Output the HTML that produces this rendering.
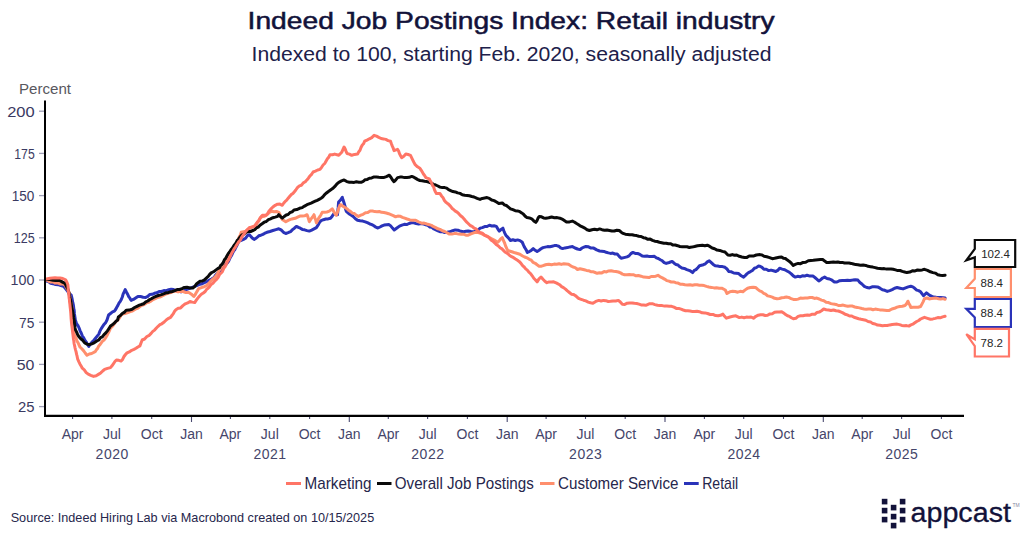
<!DOCTYPE html>
<html><head><meta charset="utf-8">
<style>
html,body{margin:0;padding:0;background:#fff;width:1024px;height:536px;overflow:hidden}
svg{display:block}
text{font-family:"Liberation Sans",sans-serif}
.t{font-weight:normal;font-size:23.4px;fill:#12123a;stroke:#12123a;stroke-width:0.5px}
.st{font-size:20px;fill:#20204a}
.yl{font-size:14.5px;fill:#3a3a62}
.xl{font-size:14px;fill:#45456a}
.yr{font-size:14px;fill:#45456a;letter-spacing:0.5px}
.lg{font-size:15.9px;fill:#26264c}
.src{font-size:13px;fill:#26264c}
.pc{font-size:15.4px;fill:#58585e}
.vl{font-size:11.5px;fill:#262626}
.logo{font-size:26.8px;fill:#12123a;stroke:#12123a;stroke-width:0.3px}
</style></head>
<body>
<svg width="1024" height="536" viewBox="0 0 1024 536">
<text x="247.6" y="29" class="t" textLength="527" lengthAdjust="spacingAndGlyphs">Indeed Job Postings Index: Retail industry</text>
<text x="251.5" y="61" class="st" textLength="520" lengthAdjust="spacingAndGlyphs">Indexed to 100, starting Feb. 2020, seasonally adjusted</text>
<text x="19" y="94.1" class="pc" textLength="52" lengthAdjust="spacingAndGlyphs">Percent</text>
<line x1="39" y1="111.2" x2="45" y2="111.2" stroke="#a0a0b8" stroke-width="1.3"/>
<text x="7.2" y="116.5" class="yl" textLength="27.5" lengthAdjust="spacingAndGlyphs">200</text>
<line x1="39" y1="153.4" x2="45" y2="153.4" stroke="#a0a0b8" stroke-width="1.3"/>
<text x="14.3" y="158.7" class="yl" textLength="20.4" lengthAdjust="spacingAndGlyphs">175</text>
<line x1="39" y1="195.6" x2="45" y2="195.6" stroke="#a0a0b8" stroke-width="1.3"/>
<text x="11.8" y="200.9" class="yl" textLength="22.6" lengthAdjust="spacingAndGlyphs">150</text>
<line x1="39" y1="237.8" x2="45" y2="237.8" stroke="#a0a0b8" stroke-width="1.3"/>
<text x="13.7" y="243.1" class="yl" textLength="21.0" lengthAdjust="spacingAndGlyphs">125</text>
<line x1="39" y1="280.0" x2="45" y2="280.0" stroke="#a0a0b8" stroke-width="1.3"/>
<text x="10.6" y="285.3" class="yl" textLength="23.8" lengthAdjust="spacingAndGlyphs">100</text>
<line x1="39" y1="322.2" x2="45" y2="322.2" stroke="#a0a0b8" stroke-width="1.3"/>
<text x="19.1" y="327.5" class="yl" textLength="15.3" lengthAdjust="spacingAndGlyphs">75</text>
<line x1="39" y1="364.4" x2="45" y2="364.4" stroke="#a0a0b8" stroke-width="1.3"/>
<text x="16.7" y="369.7" class="yl" textLength="17.7" lengthAdjust="spacingAndGlyphs">50</text>
<line x1="39" y1="406.6" x2="45" y2="406.6" stroke="#a0a0b8" stroke-width="1.3"/>
<text x="18.1" y="411.9" class="yl" textLength="16.5" lengthAdjust="spacingAndGlyphs">25</text>
<line x1="72.6" y1="416" x2="72.6" y2="419" stroke="#4a4a70" stroke-width="1.1"/>
<text x="72.6" y="438.7" text-anchor="middle" class="xl">Apr</text>
<line x1="111.9" y1="416" x2="111.9" y2="419" stroke="#4a4a70" stroke-width="1.1"/>
<text x="111.9" y="438.7" text-anchor="middle" class="xl">Jul</text>
<line x1="151.7" y1="416" x2="151.7" y2="419" stroke="#4a4a70" stroke-width="1.1"/>
<text x="151.7" y="438.7" text-anchor="middle" class="xl">Oct</text>
<text x="112.2" y="459" text-anchor="middle" class="yr">2020</text>
<line x1="191.5" y1="416" x2="191.5" y2="422" stroke="#4a4a70" stroke-width="1.1"/>
<text x="191.5" y="438.7" text-anchor="middle" class="xl">Jan</text>
<line x1="230.4" y1="416" x2="230.4" y2="419" stroke="#4a4a70" stroke-width="1.1"/>
<text x="230.4" y="438.7" text-anchor="middle" class="xl">Apr</text>
<line x1="269.8" y1="416" x2="269.8" y2="419" stroke="#4a4a70" stroke-width="1.1"/>
<text x="269.8" y="438.7" text-anchor="middle" class="xl">Jul</text>
<line x1="309.6" y1="416" x2="309.6" y2="419" stroke="#4a4a70" stroke-width="1.1"/>
<text x="309.6" y="438.7" text-anchor="middle" class="xl">Oct</text>
<text x="270.0" y="459" text-anchor="middle" class="yr">2021</text>
<line x1="349.3" y1="416" x2="349.3" y2="422" stroke="#4a4a70" stroke-width="1.1"/>
<text x="349.3" y="438.7" text-anchor="middle" class="xl">Jan</text>
<line x1="388.3" y1="416" x2="388.3" y2="419" stroke="#4a4a70" stroke-width="1.1"/>
<text x="388.3" y="438.7" text-anchor="middle" class="xl">Apr</text>
<line x1="427.6" y1="416" x2="427.6" y2="419" stroke="#4a4a70" stroke-width="1.1"/>
<text x="427.6" y="438.7" text-anchor="middle" class="xl">Jul</text>
<line x1="467.4" y1="416" x2="467.4" y2="419" stroke="#4a4a70" stroke-width="1.1"/>
<text x="467.4" y="438.7" text-anchor="middle" class="xl">Oct</text>
<text x="427.9" y="459" text-anchor="middle" class="yr">2022</text>
<line x1="507.2" y1="416" x2="507.2" y2="422" stroke="#4a4a70" stroke-width="1.1"/>
<text x="507.2" y="438.7" text-anchor="middle" class="xl">Jan</text>
<line x1="546.1" y1="416" x2="546.1" y2="419" stroke="#4a4a70" stroke-width="1.1"/>
<text x="546.1" y="438.7" text-anchor="middle" class="xl">Apr</text>
<line x1="585.5" y1="416" x2="585.5" y2="419" stroke="#4a4a70" stroke-width="1.1"/>
<text x="585.5" y="438.7" text-anchor="middle" class="xl">Jul</text>
<line x1="625.2" y1="416" x2="625.2" y2="419" stroke="#4a4a70" stroke-width="1.1"/>
<text x="625.2" y="438.7" text-anchor="middle" class="xl">Oct</text>
<text x="585.7" y="459" text-anchor="middle" class="yr">2023</text>
<line x1="665.0" y1="416" x2="665.0" y2="422" stroke="#4a4a70" stroke-width="1.1"/>
<text x="665.0" y="438.7" text-anchor="middle" class="xl">Jan</text>
<line x1="704.4" y1="416" x2="704.4" y2="419" stroke="#4a4a70" stroke-width="1.1"/>
<text x="704.4" y="438.7" text-anchor="middle" class="xl">Apr</text>
<line x1="743.7" y1="416" x2="743.7" y2="419" stroke="#4a4a70" stroke-width="1.1"/>
<text x="743.7" y="438.7" text-anchor="middle" class="xl">Jul</text>
<line x1="783.5" y1="416" x2="783.5" y2="419" stroke="#4a4a70" stroke-width="1.1"/>
<text x="783.5" y="438.7" text-anchor="middle" class="xl">Oct</text>
<text x="744.0" y="459" text-anchor="middle" class="yr">2024</text>
<line x1="823.3" y1="416" x2="823.3" y2="422" stroke="#4a4a70" stroke-width="1.1"/>
<text x="823.3" y="438.7" text-anchor="middle" class="xl">Jan</text>
<line x1="862.2" y1="416" x2="862.2" y2="419" stroke="#4a4a70" stroke-width="1.1"/>
<text x="862.2" y="438.7" text-anchor="middle" class="xl">Apr</text>
<line x1="901.6" y1="416" x2="901.6" y2="419" stroke="#4a4a70" stroke-width="1.1"/>
<text x="901.6" y="438.7" text-anchor="middle" class="xl">Jul</text>
<line x1="941.4" y1="416" x2="941.4" y2="419" stroke="#4a4a70" stroke-width="1.1"/>
<text x="941.4" y="438.7" text-anchor="middle" class="xl">Oct</text>
<text x="901.8" y="459" text-anchor="middle" class="yr">2025</text>

<path d="M46.2,281.0 L48.5,281.5 L50.7,283.2 L53.0,283.7 L55.6,284.6 L58.2,284.7 L60.9,285.6 L63.5,286.3 L65.1,288.1 L66.7,290.1 L68.2,292.0 L69.7,293.8 L71.2,295.2 L71.7,297.1 L72.2,299.4 L72.8,302.7 L73.3,304.7 L73.6,306.8 L73.9,309.4 L74.2,310.7 L74.4,313.4 L74.7,315.9 L75.0,317.5 L75.3,320.0 L76.2,322.6 L77.2,324.7 L78.1,325.8 L79.1,328.0 L80.0,330.6 L81.2,333.0 L82.3,335.8 L83.5,337.5 L84.7,340.0 L86.1,341.8 L87.4,344.2 L88.8,346.4 L90.6,343.7 L92.3,341.8 L94.1,340.0 L95.7,338.0 L97.2,336.1 L98.8,334.1 L99.9,331.2 L101.1,328.8 L102.7,326.4 L104.2,324.2 L105.8,322.4 L107.0,320.0 L107.8,317.5 L108.6,315.0 L110.5,313.5 L112.5,311.9 L114.4,311.1 L115.6,309.5 L116.8,307.2 L117.9,305.4 L119.1,302.9 L120.3,301.3 L121.3,299.5 L122.3,297.0 L123.2,293.9 L124.2,291.8 L125.2,289.6 L126.4,292.0 L127.6,294.2 L128.7,296.6 L129.9,298.2 L131.1,300.4 L133.4,299.4 L135.6,297.9 L137.9,296.4 L140.5,296.5 L143.2,297.2 L145.8,297.4 L147.8,296.4 L149.7,294.5 L152.1,294.3 L154.4,293.3 L156.8,292.8 L159.1,291.6 L161.5,291.5 L163.9,290.6 L166.3,290.7 L168.8,289.7 L171.2,289.2 L173.6,289.5 L176.1,290.6 L178.6,291.4 L181.0,291.9 L183.6,291.0 L186.3,289.6 L188.9,288.6 L191.5,287.6 L194.1,286.7 L196.7,285.7 L200.0,284.2 L202.2,283.7 L204.3,282.6 L206.5,281.8 L209.0,280.3 L211.5,279.0 L214.0,277.6 L215.5,275.4 L217.0,273.8 L218.5,272.9 L220.0,271.5 L221.4,269.4 L222.9,267.5 L224.4,265.6 L225.9,264.4 L227.4,262.7 L228.5,261.3 L229.5,259.1 L230.6,256.9 L231.7,255.2 L232.8,252.6 L233.8,250.9 L234.9,249.5 L236.0,247.1 L237.1,245.0 L238.1,242.8 L239.2,241.1 L241.3,240.3 L243.5,239.4 L245.5,238.3 L247.4,235.7 L249.4,234.7 L251.0,236.6 L252.5,238.2 L254.1,239.4 L256.4,238.0 L258.8,235.8 L260.9,235.2 L262.9,234.4 L264.9,233.2 L267.0,232.3 L269.9,231.5 L272.9,230.5 L275.9,229.6 L278.8,228.8 L281.1,229.9 L283.5,232.3 L285.8,233.5 L288.1,232.7 L290.5,231.7 L292.5,229.6 L294.4,228.2 L296.4,226.4 L298.4,227.4 L300.3,228.2 L302.3,229.4 L304.6,229.8 L307.0,230.6 L309.3,231.1 L311.7,230.1 L314.0,228.9 L316.4,227.6 L318.0,225.2 L319.5,222.4 L321.1,220.6 L323.5,219.7 L325.8,219.0 L328.1,218.9 L330.5,218.2 L332.2,216.2 L334.0,213.5 L337.5,214.7 L337.7,212.5 L337.9,209.9 L338.2,207.4 L338.4,204.3 L338.6,202.0 L340.5,200.0 L342.3,197.3 L343.0,199.8 L343.6,201.5 L344.3,203.8 L345.0,206.1 L345.6,209.2 L346.3,211.3 L348.9,213.7 L351.0,215.0 L353.2,216.5 L355.4,218.7 L357.5,220.2 L360.1,220.7 L362.7,221.1 L365.3,221.9 L367.9,222.9 L369.9,224.0 L371.9,224.6 L373.9,225.7 L375.9,227.2 L377.9,228.0 L380.0,227.0 L382.0,225.9 L384.1,225.1 L386.6,224.8 L389.0,224.6 L390.7,225.9 L392.5,228.1 L394.2,230.0 L396.9,228.0 L399.5,226.1 L401.9,225.1 L404.3,224.3 L406.6,224.6 L409.0,223.5 L411.4,222.8 L413.8,222.8 L416.2,223.6 L418.6,224.1 L421.0,223.6 L423.4,223.9 L425.8,224.8 L427.8,225.4 L429.9,227.0 L431.9,227.4 L433.9,229.0 L435.9,229.9 L438.0,230.8 L440.0,231.7 L442.4,231.6 L444.7,232.6 L447.1,232.3 L449.8,231.8 L452.6,230.7 L455.3,229.9 L458.0,230.2 L460.8,231.3 L463.5,231.7 L465.9,231.3 L468.2,231.1 L471.1,231.5 L474.1,231.7 L476.2,230.5 L478.2,229.8 L480.2,228.1 L482.3,227.6 L484.7,226.6 L487.0,226.5 L489.4,225.2 L491.7,226.0 L494.1,225.8 L496.4,226.4 L497.9,229.1 L499.3,231.1 L501.1,229.4 L502.9,228.2 L503.9,231.0 L504.8,233.1 L505.8,235.2 L507.4,236.9 L508.9,238.5 L510.5,240.5 L512.9,239.8 L515.2,240.5 L517.6,239.9 L520.0,240.6 L522.3,242.3 L523.3,244.7 L524.3,246.9 L525.3,248.5 L526.3,250.1 L527.3,252.5 L529.3,251.6 L531.2,250.4 L533.2,248.6 L535.2,250.3 L537.1,251.5 L539.1,250.2 L541.0,248.8 L543.0,247.6 L545.3,247.1 L547.6,246.6 L549.9,246.8 L552.1,246.2 L554.4,245.6 L556.7,245.6 L558.7,246.2 L560.6,247.8 L562.6,248.6 L565.0,247.9 L567.5,247.6 L570.0,246.9 L572.4,246.6 L575.0,248.0 L577.5,249.0 L580.1,249.6 L582.0,248.0 L584.0,247.1 L585.9,246.4 L588.5,246.8 L591.1,248.1 L593.7,248.1 L596.7,249.9 L599.6,251.0 L601.8,251.2 L604.0,251.4 L606.2,252.3 L608.4,252.9 L610.6,253.4 L612.8,253.1 L615.0,254.0 L617.2,254.0 L619.2,256.4 L621.1,258.3 L624.0,257.6 L627.0,256.9 L629.0,255.9 L630.9,253.6 L632.9,252.4 L635.2,253.4 L637.6,253.5 L639.9,254.4 L642.3,256.0 L644.6,256.3 L647.0,256.0 L649.5,256.6 L652.0,256.4 L654.4,256.3 L656.4,257.9 L658.3,258.5 L660.3,259.7 L662.3,260.8 L664.2,262.6 L666.2,263.4 L669.2,262.5 L672.1,261.4 L674.1,263.2 L676.0,264.5 L678.0,265.0 L679.9,266.8 L681.9,268.1 L684.3,268.4 L686.8,269.6 L689.7,270.6 L692.6,272.6 L694.3,270.4 L696.0,269.6 L697.8,267.7 L699.5,265.7 L703.4,264.7 L705.4,263.8 L707.3,261.9 L709.3,260.8 L711.3,262.6 L713.2,264.4 L715.2,265.7 L717.7,266.0 L720.1,266.6 L722.5,266.6 L725.0,267.3 L727.0,269.0 L728.9,271.6 L731.4,271.8 L733.8,273.0 L736.2,273.2 L738.7,273.6 L741.2,275.8 L743.6,277.1 L745.2,275.6 L746.9,273.9 L748.5,272.6 L750.5,271.6 L752.4,270.4 L754.4,268.2 L756.3,267.6 L758.3,266.1 L760.0,266.3 L762.0,267.4 L763.9,269.3 L766.3,269.3 L768.7,270.6 L771.0,270.1 L773.4,270.8 L775.8,271.5 L777.7,270.4 L779.6,268.2 L782.2,269.1 L784.8,269.8 L787.4,271.2 L789.4,272.3 L791.3,273.9 L793.3,275.9 L795.3,277.1 L797.6,276.3 L800.0,276.8 L802.3,275.8 L804.7,276.1 L807.0,275.2 L810.0,276.1 L812.9,276.1 L814.9,277.5 L816.8,279.1 L818.8,281.0 L820.7,279.7 L822.7,278.0 L824.6,277.1 L827.0,278.5 L829.5,279.0 L832.0,280.2 L834.4,282.0 L837.0,282.0 L839.7,280.7 L842.3,280.4 L844.9,280.5 L847.5,280.3 L850.1,280.4 L852.7,280.1 L855.3,279.7 L857.9,280.1 L859.9,282.5 L861.9,284.0 L864.3,286.3 L866.8,287.5 L869.5,287.9 L872.1,286.8 L874.8,286.7 L877.5,286.9 L880.0,288.2 L882.4,289.7 L884.8,290.3 L887.3,291.4 L889.8,290.6 L892.2,289.6 L894.6,288.2 L897.1,287.5 L900.0,288.2 L903.0,288.9 L905.6,287.8 L908.2,286.9 L910.8,286.3 L912.8,286.9 L914.7,288.3 L916.7,290.1 L918.6,290.6 L920.6,291.8 L922.1,293.9 L923.6,295.7 L926.5,292.8 L928.5,294.4 L930.4,295.7 L933.3,297.0 L936.3,297.3 L938.5,297.4 L940.7,297.5 L942.9,297.7 L945.1,298.1" fill="none" stroke="#2a33b9" stroke-width="3.0" stroke-linejoin="round" stroke-linecap="round"/>
<path d="M46.5,280.0 L48.7,281.3 L50.9,282.0 L53.0,281.8 L55.2,283.1 L57.6,282.8 L60.1,283.9 L62.5,283.7 L65.3,285.3 L66.5,287.8 L67.8,290.0 L69.0,292.0 L69.5,294.2 L69.9,297.0 L70.4,299.5 L70.9,301.9 L71.4,303.9 L71.8,306.7 L72.3,309.2 L72.5,311.3 L72.6,314.0 L72.8,316.5 L73.0,318.7 L73.1,320.6 L73.3,322.7 L73.4,324.8 L73.6,326.8 L73.8,329.1 L73.9,331.8 L74.1,334.1 L75.1,336.1 L76.1,338.3 L77.0,341.0 L78.0,342.7 L79.0,344.9 L80.0,347.0 L81.8,348.8 L83.5,350.6 L85.2,353.0 L87.0,355.3 L89.3,354.0 L91.7,353.5 L95.2,351.7 L96.4,349.8 L97.6,348.4 L98.8,345.9 L100.5,344.0 L102.3,341.4 L104.0,340.1 L105.8,337.6 L107.0,335.6 L108.2,333.2 L109.3,331.0 L110.5,328.2 L112.0,326.7 L113.5,325.0 L114.9,322.8 L116.4,321.2 L117.9,320.0 L119.3,318.2 L120.8,315.5 L122.3,314.1 L124.8,313.6 L127.2,312.8 L129.7,311.8 L132.1,311.1 L134.1,310.0 L136.0,308.8 L138.0,308.1 L139.9,306.5 L141.9,305.3 L144.1,304.5 L146.4,302.9 L148.6,302.3 L150.8,301.2 L153.0,299.6 L155.3,298.6 L157.5,297.4 L159.7,297.0 L162.0,296.0 L164.2,294.9 L166.5,293.7 L168.7,293.0 L171.0,292.6 L173.2,291.5 L175.6,291.1 L178.1,291.9 L180.6,291.2 L183.0,291.5 L185.9,292.5 L188.9,292.5 L191.4,294.2 L193.8,296.4 L195.0,295.0 L196.2,292.7 L197.5,290.6 L198.7,288.6 L200.0,288.1 L202.2,287.3 L204.3,286.7 L206.5,285.7 L208.3,283.9 L210.2,281.8 L212.0,279.8 L213.9,278.3 L215.7,276.4 L216.8,274.9 L218.0,272.6 L219.1,270.1 L220.3,268.9 L221.4,266.9 L222.6,265.1 L223.7,262.4 L224.8,261.0 L226.0,258.3 L227.1,257.0 L228.3,254.6 L229.4,252.9 L230.8,250.8 L232.2,249.8 L233.7,247.2 L235.1,245.9 L236.5,244.1 L237.4,242.1 L238.4,239.1 L239.3,236.7 L240.3,235.1 L241.2,232.3 L243.6,231.6 L245.9,231.1 L248.2,229.6 L250.6,227.6 L252.9,226.5 L255.3,226.4 L256.5,224.4 L257.6,222.3 L258.8,221.0 L259.9,218.4 L261.1,217.0 L264.1,216.4 L267.0,214.7 L269.4,212.4 L271.7,211.2 L274.1,211.8 L276.4,211.4 L278.8,212.3 L280.0,214.4 L281.1,217.4 L282.3,219.4 L285.8,221.7 L288.2,220.4 L290.5,219.4 L292.9,218.8 L295.2,218.3 L297.6,217.2 L299.9,216.1 L302.3,215.9 L304.6,215.8 L307.0,214.7 L307.8,216.6 L308.5,218.9 L309.3,221.7 L310.9,219.2 L312.4,217.2 L314.0,214.7 L314.8,217.7 L315.6,219.7 L316.4,222.9 L317.6,220.6 L318.7,218.1 L319.9,216.5 L321.0,214.7 L322.2,212.3 L324.6,212.2 L326.9,212.0 L329.3,211.2 L332.2,208.8 L333.6,211.2 L334.9,213.5 L336.3,215.3 L337.2,213.0 L338.1,210.3 L339.0,207.5 L339.9,205.3 L340.8,204.6 L342.7,206.2 L344.6,207.2 L346.5,208.4 L348.4,210.2 L350.4,211.4 L352.4,213.1 L354.4,213.5 L356.4,215.3 L358.4,216.4 L360.8,215.2 L363.1,214.3 L365.5,212.8 L367.8,212.6 L370.2,211.0 L372.5,211.0 L374.8,211.6 L377.0,211.7 L379.3,211.5 L381.6,212.3 L383.9,212.5 L386.2,213.0 L388.6,213.7 L390.9,214.6 L393.3,215.6 L395.6,216.8 L397.8,216.1 L400.0,216.2 L402.4,217.3 L404.7,218.1 L407.1,219.0 L410.0,219.9 L412.8,220.3 L415.7,220.2 L418.9,222.0 L421.5,223.2 L424.1,223.1 L426.8,224.0 L429.4,224.7 L431.5,225.4 L433.6,226.7 L435.8,227.7 L437.9,228.8 L440.0,229.4 L442.4,230.8 L444.7,231.5 L447.0,232.8 L449.4,234.1 L451.8,234.1 L454.1,233.6 L456.4,233.6 L458.8,234.1 L461.1,234.3 L463.5,234.2 L465.9,235.2 L468.2,235.2 L470.9,233.9 L473.7,232.8 L476.4,232.3 L479.2,232.9 L481.9,233.9 L484.7,235.2 L487.0,236.1 L489.4,237.6 L491.7,238.8 L493.7,239.9 L495.6,240.9 L497.6,242.3 L499.2,240.9 L500.7,238.9 L502.3,237.6 L503.5,240.7 L504.6,243.0 L505.6,246.0 L506.7,248.3 L507.7,250.5 L510.1,251.2 L512.6,252.0 L515.0,252.8 L517.5,253.5 L519.9,254.2 L522.2,255.7 L524.6,257.0 L526.9,257.8 L529.3,259.3 L531.3,260.2 L533.2,262.4 L535.2,263.3 L537.1,264.8 L539.1,266.2 L541.5,266.2 L544.0,265.3 L546.5,264.5 L548.9,264.2 L551.5,264.7 L554.1,264.1 L556.7,264.2 L559.1,263.7 L561.4,264.4 L563.8,263.8 L566.1,264.0 L568.5,264.2 L570.8,265.9 L573.0,267.0 L575.2,267.6 L577.5,269.5 L580.0,268.7 L582.1,269.2 L584.3,269.8 L586.5,270.4 L588.6,270.7 L590.8,271.7 L592.9,271.7 L595.1,272.5 L597.2,273.3 L599.5,272.7 L601.8,272.9 L604.1,271.6 L606.4,271.9 L608.7,270.9 L611.0,270.8 L613.5,271.3 L615.9,271.5 L618.4,272.0 L620.5,272.9 L622.5,274.1 L624.6,274.7 L626.9,274.7 L629.2,274.6 L631.5,274.7 L633.8,274.8 L636.1,275.8 L638.4,275.5 L641.0,276.2 L643.7,277.1 L646.4,277.3 L649.0,277.6 L651.2,276.5 L653.5,276.6 L655.8,276.2 L658.0,275.3 L660.2,276.9 L662.4,277.9 L664.5,279.1 L666.7,280.6 L669.0,281.1 L671.2,282.0 L673.5,281.9 L675.7,282.7 L678.0,283.1 L680.2,284.2 L682.5,284.2 L685.0,284.7 L687.5,285.0 L690.0,284.7 L692.4,285.2 L694.7,284.7 L697.1,284.8 L699.4,285.2 L701.8,285.3 L704.1,285.6 L706.5,286.4 L708.8,287.0 L711.4,287.4 L714.0,287.9 L716.5,287.8 L719.1,288.3 L721.7,288.2 L725.3,290.0 L727.0,293.5 L730.0,291.7 L732.6,291.3 L735.2,291.5 L737.7,292.2 L740.3,291.3 L742.9,291.7 L745.2,289.9 L747.6,288.2 L750.3,287.5 L753.1,287.3 L755.8,287.6 L757.8,289.4 L759.7,290.9 L761.7,291.7 L763.7,293.3 L765.6,294.1 L767.6,295.9 L770.0,296.4 L772.3,297.1 L774.6,298.3 L777.0,298.8 L779.4,298.5 L781.7,297.8 L784.0,297.5 L786.4,297.0 L788.7,297.4 L791.1,298.6 L793.4,299.4 L795.8,299.6 L798.1,299.1 L800.4,298.1 L802.8,298.2 L805.2,298.0 L807.5,298.0 L809.9,297.6 L812.2,297.5 L814.5,298.4 L816.8,298.1 L819.2,299.0 L821.5,300.1 L823.9,300.7 L826.2,302.2 L828.6,302.6 L831.0,303.6 L833.5,304.1 L836.0,304.4 L838.4,305.5 L840.7,305.5 L843.1,305.1 L845.4,305.8 L847.8,306.2 L850.1,305.9 L852.5,306.1 L854.8,307.0 L857.2,307.4 L859.5,307.9 L861.9,308.5 L864.1,308.9 L866.4,309.2 L868.6,309.1 L870.8,309.0 L873.0,309.7 L875.3,309.1 L877.5,309.4 L879.9,309.9 L882.2,310.0 L884.6,310.3 L886.9,310.6 L889.3,310.4 L891.9,309.0 L894.5,308.3 L897.1,307.1 L899.7,306.5 L902.4,306.2 L905.0,305.5 L906.5,303.9 L907.9,301.2 L908.9,303.4 L909.8,304.9 L910.8,307.5 L913.2,307.2 L915.7,307.2 L918.1,307.2 L920.6,306.5 L921.9,304.1 L923.2,301.6 L924.5,298.7 L926.9,298.0 L929.2,298.9 L931.6,298.6 L933.9,298.3 L936.3,298.1 L938.5,298.8 L940.7,299.1 L942.9,298.6 L945.1,299.3" fill="none" stroke="#ff8f6d" stroke-width="3.0" stroke-linejoin="round" stroke-linecap="round"/>
<path d="M46.5,279.5 L49.8,279.6 L53.0,280.3 L55.3,280.4 L57.7,280.4 L60.0,280.6 L62.5,282.1 L65.0,283.4 L66.4,286.3 L67.8,289.0 L68.5,291.1 L69.1,293.7 L69.8,297.2 L70.4,299.4 L70.8,301.4 L71.2,303.6 L71.6,306.6 L72.1,308.3 L72.5,310.9 L72.9,312.7 L73.3,315.0 L73.7,317.7 L74.1,320.0 L74.4,322.0 L74.7,324.8 L75.0,327.5 L75.3,329.4 L76.5,331.8 L77.6,334.4 L78.8,336.5 L80.8,338.8 L82.7,340.3 L84.7,342.9 L87.1,344.1 L89.4,344.7 L91.8,343.9 L94.1,342.9 L96.4,341.2 L98.8,340.0 L100.5,337.7 L102.3,336.9 L104.0,334.6 L105.8,332.9 L107.4,330.8 L108.9,328.7 L110.5,325.9 L112.3,324.7 L114.0,323.4 L115.8,321.4 L117.6,320.0 L118.4,317.0 L120.4,315.6 L122.3,313.5 L124.2,312.4 L126.2,310.2 L129.2,310.1 L132.1,309.2 L134.6,307.5 L137.0,306.3 L139.4,305.2 L141.9,304.3 L143.8,303.7 L145.8,301.9 L147.8,301.0 L149.7,299.5 L151.7,298.6 L153.6,297.4 L156.0,296.4 L158.3,295.5 L160.7,294.9 L163.0,294.1 L165.4,293.1 L167.7,292.8 L170.1,291.9 L172.4,291.5 L174.8,290.7 L177.1,289.6 L179.6,289.5 L182.0,288.6 L184.4,287.4 L186.9,287.2 L189.9,288.0 L192.8,288.0 L194.8,286.4 L196.7,283.7 L200.0,281.3 L202.2,281.0 L204.5,279.8 L206.3,278.1 L208.2,276.4 L210.0,274.0 L211.8,272.5 L213.8,271.6 L215.7,270.1 L217.7,268.6 L219.6,267.6 L220.8,265.2 L222.1,264.2 L223.3,262.4 L224.5,259.5 L225.7,258.4 L226.9,256.0 L228.2,253.8 L229.4,252.3 L231.0,249.7 L232.5,247.9 L234.1,245.2 L235.6,243.6 L237.1,240.6 L238.5,239.2 L240.0,237.0 L242.0,234.9 L243.9,234.1 L245.9,232.3 L248.2,231.5 L250.6,231.5 L252.9,230.5 L254.7,229.7 L256.4,227.9 L258.2,227.1 L260.0,225.3 L262.1,223.8 L264.2,222.2 L266.3,221.5 L268.4,219.6 L270.5,218.8 L272.9,217.7 L275.2,217.1 L277.6,216.4 L278.8,214.7 L280.6,216.6 L282.3,218.2 L284.2,216.5 L286.2,215.0 L288.1,214.5 L290.1,212.5 L292.1,211.9 L294.0,210.0 L296.8,209.6 L299.5,208.3 L302.3,207.6 L304.6,206.1 L307.0,204.7 L309.1,203.8 L311.1,203.1 L313.1,202.2 L315.2,201.2 L317.2,200.3 L319.1,199.3 L321.1,198.2 L322.7,197.1 L324.2,195.1 L325.8,193.5 L328.1,191.7 L330.5,190.0 L332.6,188.6 L334.6,186.7 L336.7,184.2 L338.8,182.3 L341.5,180.9 L344.1,179.9 L346.8,181.6 L349.4,182.3 L351.7,182.3 L354.1,182.4 L356.4,181.8 L358.8,182.2 L361.1,182.3 L363.2,181.4 L365.2,179.7 L367.3,179.4 L369.4,178.2 L371.7,177.9 L374.1,176.9 L376.4,177.0 L378.8,177.3 L381.1,177.4 L383.5,177.6 L386.4,176.6 L389.3,175.2 L390.9,177.2 L392.4,179.8 L394.0,181.7 L395.8,179.9 L397.6,177.6 L399.9,177.1 L402.3,177.1 L404.6,177.6 L407.0,177.4 L409.3,177.3 L411.7,176.4 L413.8,177.2 L415.8,178.4 L417.8,179.6 L419.9,180.5 L422.2,180.8 L424.6,181.3 L426.9,181.6 L429.3,182.3 L431.4,183.1 L433.6,184.3 L435.7,185.0 L437.9,186.0 L440.0,187.1 L442.4,187.6 L444.7,187.6 L446.7,188.1 L448.6,189.7 L450.6,190.6 L452.9,191.6 L455.3,191.9 L457.6,192.9 L460.0,193.4 L462.3,194.8 L464.7,195.3 L467.1,195.4 L469.4,195.8 L471.8,196.5 L474.1,197.0 L477.1,198.4 L480.0,199.4 L482.3,198.4 L484.7,198.0 L487.0,197.6 L489.4,198.4 L491.7,200.0 L494.1,200.6 L496.5,202.0 L498.8,203.5 L502.3,202.9 L504.4,204.8 L506.4,205.5 L508.4,207.1 L510.5,208.8 L512.9,209.7 L515.2,210.7 L517.5,210.9 L519.9,211.7 L521.7,212.9 L523.5,214.2 L525.2,216.2 L527.0,217.6 L529.4,217.9 L531.7,218.8 L533.8,220.9 L535.8,222.3 L537.0,220.7 L538.1,218.0 L539.3,216.4 L541.5,216.8 L543.6,217.9 L545.8,218.2 L548.7,217.8 L551.6,217.0 L554.4,217.7 L557.1,217.6 L559.9,218.2 L562.1,219.1 L564.3,220.6 L566.5,222.1 L569.5,221.9 L572.4,221.1 L574.3,222.0 L576.2,223.3 L578.2,224.5 L580.1,225.8 L582.4,226.9 L584.8,228.1 L587.1,229.8 L589.4,230.5 L592.0,229.7 L594.5,229.2 L597.0,229.8 L599.6,228.9 L602.0,229.7 L604.5,230.2 L607.0,230.0 L609.4,230.5 L611.9,231.0 L614.3,231.0 L616.8,230.2 L619.2,230.5 L621.2,232.2 L623.1,233.4 L625.3,234.2 L627.6,234.4 L629.8,234.7 L632.1,234.8 L634.3,235.3 L636.6,235.6 L638.8,236.3 L641.1,236.5 L643.4,237.7 L645.6,238.1 L647.9,239.3 L650.2,239.1 L652.5,240.3 L654.8,241.2 L657.1,241.5 L659.4,242.2 L661.6,242.7 L663.9,243.2 L666.2,243.2 L668.5,243.8 L670.8,243.8 L673.0,245.1 L675.3,245.0 L677.6,245.7 L679.9,246.5 L682.3,246.8 L684.6,246.8 L687.0,246.8 L689.3,247.5 L691.7,247.1 L694.6,246.5 L697.5,245.7 L700.0,245.4 L702.4,245.2 L704.8,245.7 L707.3,245.2 L709.8,246.4 L712.2,248.0 L714.6,248.7 L717.1,250.1 L719.7,250.4 L722.4,251.4 L725.0,252.0 L727.9,255.0 L730.1,255.3 L732.3,254.6 L734.5,255.3 L736.7,255.0 L739.3,256.3 L741.9,257.0 L744.5,257.5 L746.9,257.4 L749.2,256.0 L751.6,256.1 L753.9,255.9 L756.3,255.0 L760.0,254.6 L762.0,255.0 L764.1,256.3 L766.8,256.8 L769.6,257.6 L772.3,258.7 L774.6,258.3 L776.9,257.7 L779.2,257.3 L781.5,256.9 L783.5,258.3 L785.4,258.5 L787.4,260.1 L789.4,261.4 L791.3,263.2 L793.3,265.4 L795.8,264.2 L798.2,263.4 L800.6,263.7 L803.1,262.4 L805.7,262.2 L808.3,260.7 L810.9,260.5 L813.3,260.3 L815.6,259.9 L818.0,259.7 L820.3,259.5 L822.7,259.5 L824.7,261.1 L826.6,262.4 L828.8,262.5 L831.1,262.2 L833.3,262.1 L835.6,262.2 L837.8,262.0 L840.1,262.5 L842.3,262.4 L844.5,263.0 L846.8,263.0 L849.0,263.0 L851.2,263.4 L853.4,264.0 L855.7,264.6 L857.9,264.8 L860.5,265.3 L863.2,265.1 L865.8,265.4 L868.1,266.3 L870.5,266.7 L872.8,267.1 L875.2,267.6 L877.5,268.3 L879.7,268.4 L882.0,268.8 L884.2,268.6 L886.5,269.1 L888.7,269.0 L891.0,268.9 L893.2,269.3 L895.5,269.9 L897.8,270.6 L900.0,270.5 L902.3,271.4 L904.6,272.0 L906.9,272.6 L909.8,272.1 L912.8,270.7 L915.1,270.9 L917.5,270.0 L919.8,270.3 L922.2,269.9 L924.5,269.3 L927.5,270.3 L930.4,271.8 L932.9,272.6 L935.3,273.1 L937.8,274.7 L940.2,275.2 L942.7,275.4 L945.1,275.2" fill="none" stroke="#0a0a0a" stroke-width="3.0" stroke-linejoin="round" stroke-linecap="round"/>
<path d="M46.5,279.0 L50.0,278.2 L52.5,277.9 L55.0,277.7 L57.5,277.9 L60.0,278.0 L62.8,278.5 L65.6,279.8 L66.7,281.7 L67.8,284.5 L68.1,287.2 L68.3,290.6 L68.6,293.0 L68.9,295.6 L69.1,297.9 L69.4,299.6 L69.6,302.3 L69.9,304.3 L70.1,306.5 L70.4,309.2 L70.6,311.0 L70.8,313.3 L71.0,316.3 L71.1,318.4 L71.3,320.6 L71.5,322.8 L71.7,324.7 L72.0,326.7 L72.3,329.2 L72.6,331.9 L72.9,334.4 L73.2,336.8 L73.5,339.2 L73.8,340.7 L74.1,343.5 L74.6,345.8 L75.1,348.1 L75.6,350.1 L76.1,351.9 L76.6,354.4 L77.1,356.2 L77.6,358.8 L78.8,361.6 L79.9,363.9 L81.1,365.9 L82.3,368.2 L84.3,369.9 L86.2,372.6 L88.2,374.1 L90.8,375.3 L93.5,376.4 L96.2,375.7 L98.8,374.1 L100.7,372.9 L102.7,371.0 L104.6,369.4 L107.5,368.4 L110.5,367.6 L112.0,365.8 L113.5,363.7 L114.9,361.5 L116.4,360.0 L118.8,360.3 L121.1,361.1 L122.6,359.4 L124.0,356.5 L125.5,354.5 L127.0,352.9 L129.3,351.9 L131.7,350.3 L134.0,349.4 L136.0,348.3 L137.9,347.0 L139.9,345.9 L141.1,342.8 L142.2,340.0 L144.6,339.0 L146.9,336.5 L149.3,335.3 L151.1,333.4 L152.8,331.4 L154.6,330.1 L156.4,328.0 L158.1,326.3 L159.9,324.7 L161.8,323.8 L164.2,322.0 L166.5,319.7 L168.6,318.3 L170.6,317.3 L171.9,315.5 L173.2,313.9 L174.6,311.2 L175.9,309.7 L178.2,308.3 L180.6,307.9 L182.9,305.6 L185.3,303.8 L187.7,302.9 L190.0,301.4 L192.3,302.1 L194.7,302.6 L196.3,300.2 L197.8,298.1 L199.4,296.2 L201.3,294.3 L203.3,293.0 L205.2,291.5 L206.7,289.2 L208.1,288.2 L209.6,286.6 L211.1,284.4 L212.9,283.2 L214.6,281.2 L216.4,279.7 L218.2,277.4 L219.6,274.4 L222.2,272.0 L223.3,269.4 L224.3,267.5 L225.4,266.2 L226.5,263.9 L227.5,261.3 L228.6,259.8 L229.7,257.4 L230.7,255.5 L231.8,253.0 L233.0,250.9 L234.1,248.9 L235.3,247.3 L236.5,245.1 L237.6,243.5 L238.8,241.7 L240.4,239.9 L241.9,236.8 L243.5,234.7 L245.0,232.4 L246.4,230.6 L247.9,229.0 L249.4,227.6 L251.8,227.3 L254.1,226.4 L255.7,224.3 L257.2,222.3 L258.8,220.6 L260.6,217.5 L262.3,215.3 L265.8,215.3 L267.4,213.9 L268.9,211.3 L270.5,209.4 L272.9,207.0 L275.2,205.3 L277.5,204.2 L279.9,204.1 L282.3,205.3 L283.8,203.0 L285.2,201.4 L286.7,200.2 L288.2,198.2 L289.8,196.2 L291.3,194.6 L292.9,193.5 L294.4,191.7 L295.8,190.0 L297.4,187.7 L299.4,185.9 L301.4,185.3 L303.3,182.9 L305.3,181.8 L306.9,179.9 L308.4,178.2 L310.0,175.8 L311.5,174.5 L313.1,172.0 L315.4,171.1 L317.7,170.0 L320.0,169.4 L321.6,167.3 L323.1,165.0 L324.7,163.5 L326.0,161.2 L327.4,158.8 L328.7,157.3 L330.0,154.7 L332.4,154.8 L334.7,154.1 L338.8,155.3 L341.7,152.3 L342.9,149.6 L344.1,147.0 L345.1,148.7 L346.0,151.1 L347.0,153.5 L349.4,154.1 L351.7,155.3 L354.6,154.4 L357.6,154.1 L358.8,151.7 L360.0,150.2 L361.1,147.3 L362.3,145.0 L363.5,143.8 L364.7,141.2 L367.0,140.1 L369.4,138.8 L371.8,137.6 L374.1,135.3 L376.5,136.2 L378.8,137.4 L381.1,138.5 L383.5,138.9 L385.8,139.4 L388.1,140.6 L390.5,141.2 L391.4,143.8 L392.2,145.9 L393.1,147.8 L394.0,150.6 L397.6,149.4 L398.6,151.1 L399.6,153.9 L400.7,156.0 L401.7,157.6 L403.8,156.3 L405.8,154.1 L408.1,154.5 L410.5,155.3 L411.7,157.8 L412.9,160.3 L414.0,162.5 L415.2,164.7 L417.5,166.8 L419.9,168.2 L421.1,170.1 L422.3,172.1 L423.4,174.0 L424.6,175.5 L425.8,177.6 L429.3,178.8 L430.5,181.4 L431.6,183.0 L432.6,185.6 L433.6,186.8 L434.5,189.9 L435.5,192.0 L436.5,193.6 L440.0,193.5 L441.5,195.9 L442.9,197.4 L444.4,200.5 L445.9,202.3 L448.2,203.9 L450.6,206.4 L452.2,208.5 L453.7,209.7 L455.3,211.1 L457.1,212.1 L458.8,213.7 L460.6,215.7 L462.3,217.0 L464.3,219.2 L466.2,221.6 L468.2,223.5 L470.2,225.5 L472.1,226.3 L474.1,228.2 L476.1,229.0 L478.0,231.4 L480.0,232.3 L482.3,233.1 L484.7,235.4 L487.0,236.4 L489.0,237.5 L490.9,239.9 L492.9,241.1 L494.7,243.0 L496.6,244.8 L498.4,246.0 L500.3,248.0 L502.1,248.9 L504.0,251.1 L505.8,252.5 L507.8,253.6 L509.7,255.5 L511.6,256.7 L513.6,257.7 L515.5,259.0 L517.5,260.3 L519.1,261.4 L520.8,263.1 L522.4,265.3 L524.0,266.8 L525.7,268.9 L527.3,270.1 L528.9,272.2 L530.6,273.6 L532.2,275.8 L533.8,278.3 L535.5,280.0 L537.1,281.9 L539.0,278.9 L541.0,277.0 L543.0,279.3 L544.9,281.2 L546.9,282.7 L549.2,281.9 L551.4,282.1 L553.7,281.8 L556.7,283.1 L559.6,284.7 L561.6,286.6 L563.5,287.6 L565.5,289.1 L567.4,290.9 L569.4,292.5 L571.4,294.2 L573.3,294.4 L575.2,295.5 L577.2,297.2 L579.1,298.7 L581.1,299.4 L583.5,300.2 L585.8,300.9 L588.2,302.1 L590.5,302.8 L592.9,303.3 L595.8,301.4 L598.8,300.4 L601.1,301.0 L603.5,300.4 L605.8,300.7 L608.2,301.5 L610.5,301.3 L613.1,300.9 L615.8,301.0 L618.4,300.4 L620.3,302.0 L622.3,304.3 L624.8,304.4 L627.2,303.2 L629.6,302.9 L632.1,302.9 L634.4,303.3 L636.7,303.5 L639.0,304.1 L641.2,304.9 L643.5,305.1 L645.8,305.3 L649.7,303.7 L652.3,303.7 L654.9,304.6 L657.5,305.3 L659.9,305.5 L662.2,305.6 L664.6,306.1 L666.9,306.0 L669.3,306.2 L671.6,306.3 L674.0,307.1 L676.3,308.4 L678.7,308.4 L681.0,309.2 L683.2,310.0 L685.5,310.7 L687.8,310.8 L690.0,311.1 L692.4,311.4 L694.7,311.5 L697.0,311.3 L699.4,311.7 L702.1,312.8 L704.9,312.9 L707.6,313.5 L710.2,314.5 L712.9,314.4 L715.6,315.6 L718.2,315.8 L720.5,315.3 L722.9,314.1 L724.6,316.3 L726.4,318.2 L730.0,317.0 L732.9,316.3 L735.8,315.8 L739.4,317.6 L741.7,317.1 L744.1,317.7 L746.4,317.1 L748.8,317.3 L751.1,317.0 L753.5,318.2 L755.9,316.3 L758.2,315.2 L760.6,314.7 L762.9,314.8 L765.2,315.5 L767.6,315.2 L769.9,313.9 L772.3,313.7 L774.6,312.3 L777.0,312.0 L779.3,312.0 L781.7,311.7 L783.6,312.9 L785.6,314.6 L787.5,315.8 L789.5,316.4 L791.4,317.7 L793.4,318.8 L795.8,318.3 L798.1,316.4 L800.5,315.8 L802.9,315.8 L805.2,315.3 L807.5,315.1 L809.9,315.2 L812.3,314.2 L814.8,314.3 L817.0,312.4 L819.2,312.1 L821.5,310.7 L823.7,309.0 L826.2,309.7 L828.6,310.0 L831.0,310.5 L833.5,310.0 L836.0,310.8 L838.4,311.0 L840.6,311.9 L842.9,312.9 L845.1,314.2 L847.3,314.9 L849.5,316.0 L851.8,316.0 L854.0,317.3 L856.4,318.0 L858.7,318.7 L861.1,319.3 L863.4,319.7 L865.8,320.2 L868.1,321.5 L870.5,321.9 L872.8,323.6 L875.2,324.0 L877.5,325.1 L880.0,325.3 L882.4,325.7 L884.8,325.6 L887.3,325.5 L889.8,324.9 L892.2,324.5 L894.6,324.3 L897.1,324.1 L899.5,324.6 L901.8,325.4 L904.2,325.7 L906.5,325.6 L908.9,326.1 L910.9,324.9 L912.8,324.2 L914.8,322.8 L916.7,321.5 L918.7,320.5 L920.6,319.0 L922.6,318.1 L924.5,317.3 L927.5,318.3 L930.4,319.2 L932.9,318.9 L935.3,318.4 L937.8,317.6 L940.2,317.8 L942.6,316.9 L945.1,316.3" fill="none" stroke="#ff7566" stroke-width="3.0" stroke-linejoin="round" stroke-linecap="round"/>

<line x1="45" y1="100.5" x2="45" y2="416" stroke="#000" stroke-width="2"/>
<line x1="44" y1="415.9" x2="964" y2="415.9" stroke="#000" stroke-width="2.2"/>
<path d="M974.8,240 L1015.2,240 L1015.2,267 L974.8,267 L974.8,257.4 L966.3,260.4 L974.8,248.8 Z" fill="#fff" stroke="#0a0a0a" stroke-width="2.2" stroke-linejoin="miter"/><text x="981.2" y="257.7" class="vl">102.4</text>
<path d="M974.8,269 L1010.9,269 L1010.9,297 L974.8,297 L974.8,288.0 L966.3,288.0 L974.8,278.8 Z" fill="#fff" stroke="#ff8f6d" stroke-width="2.2" stroke-linejoin="miter"/><text x="980.6" y="287.2" class="vl">88.4</text>
<path d="M974.8,299 L1010.9,299 L1010.9,327 L974.8,327 L974.8,317.4 L966.3,308.8 L974.8,308.8 Z" fill="#fff" stroke="#2a33b9" stroke-width="2.2" stroke-linejoin="miter"/><text x="980.6" y="317.2" class="vl">88.4</text>
<path d="M974.8,328.8 L1009.0,328.8 L1009.0,356.5 L974.8,356.5 L974.8,346.1 L966.3,334.2 L974.8,339.4 Z" fill="#fff" stroke="#ff7566" stroke-width="2.2" stroke-linejoin="miter"/><text x="980.6" y="346.8" class="vl">78.2</text>
<line x1="286" y1="483.5" x2="301" y2="483.5" stroke="#ff7566" stroke-width="3"/>
<text x="304.6" y="489.3" class="lg" textLength="67" lengthAdjust="spacingAndGlyphs">Marketing</text>
<line x1="377" y1="483.5" x2="391.5" y2="483.5" stroke="#0a0a0a" stroke-width="3"/>
<text x="394.8" y="489.3" class="lg" textLength="139" lengthAdjust="spacingAndGlyphs">Overall Job Postings</text>
<line x1="540" y1="483.5" x2="554.5" y2="483.5" stroke="#ff8f6d" stroke-width="3"/>
<text x="558" y="489.3" class="lg" textLength="120.5" lengthAdjust="spacingAndGlyphs">Customer Service</text>
<line x1="684" y1="483.5" x2="698.7" y2="483.5" stroke="#2a33b9" stroke-width="3"/>
<text x="702.2" y="489.3" class="lg" textLength="36" lengthAdjust="spacingAndGlyphs">Retail</text>
<text x="10.7" y="521.5" class="src" textLength="363.5" lengthAdjust="spacingAndGlyphs">Source: Indeed Hiring Lab via Macrobond created on 10/15/2025</text>
<rect x="881.8" y="498.8" width="5.6" height="5.6" fill="#12123a"/>
<rect x="881.8" y="507.8" width="5.6" height="5.6" fill="#12123a"/>
<rect x="881.8" y="516.8" width="5.6" height="5.6" fill="#12123a"/>
<rect x="899.8" y="498.8" width="5.6" height="5.6" fill="#12123a"/>
<rect x="899.8" y="507.8" width="5.6" height="5.6" fill="#12123a"/>
<rect x="899.8" y="516.8" width="5.6" height="5.6" fill="#12123a"/>
<rect x="890.8" y="504.8" width="5.6" height="5.6" fill="#12123a"/>
<rect x="890.8" y="513.8" width="5.6" height="5.6" fill="#12123a"/>
<rect x="890.8" y="522.8" width="5.6" height="5.6" fill="#12123a"/>
<text x="910.5" y="521.5" class="logo" textLength="100.5" lengthAdjust="spacingAndGlyphs">appcast</text>
<text x="1012.5" y="507" font-size="5" fill="#8888a0">TM</text>
</svg>
</body></html>
